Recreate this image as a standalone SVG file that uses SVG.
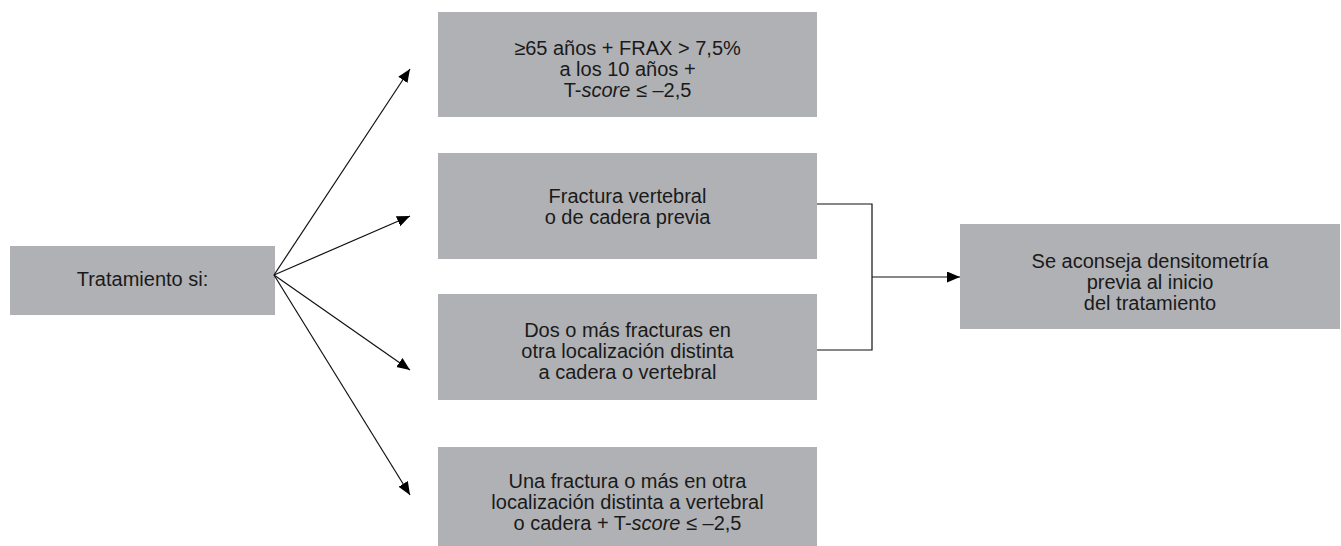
<svg xmlns="http://www.w3.org/2000/svg" width="1341" height="546" viewBox="0 0 1341 546">
<style>
.box{fill:#b0b1b4}
.t{font-family:"Liberation Sans",Arial,Helvetica,sans-serif;font-size:20px;fill:#1a1a1a;text-anchor:middle}
.c{stroke:#111;stroke-width:1.2;fill:none}
</style>
<defs>
<marker id="ah" markerUnits="userSpaceOnUse" markerWidth="14" markerHeight="12" refX="13" refY="5.5" orient="auto">
<path d="M0,0 L13,5.5 L0,11 z" fill="#000"/>
</marker>
</defs>
<rect width="1341" height="546" fill="#fff"/>
<g id="n-tratamiento">
<rect class="box" x="10" y="246" width="265" height="69"/>
<text class="t" x="142.5" y="286">Tratamiento si:</text>
</g>
<g id="n-frax">
<rect class="box" x="438" y="12" width="379" height="105"/>
<text class="t" x="627.5" y="55">≥65 años + FRAX &gt; 7,5%</text>
<text class="t" x="627.5" y="76">a los 10 años +</text>
<text class="t" x="627.5" y="97">T-<tspan font-style="italic">score</tspan> ≤ –2,5</text>
</g>
<g id="n-fractura-vertebral">
<rect class="box" x="438" y="153" width="379" height="106"/>
<text class="t" x="627.5" y="203">Fractura vertebral</text>
<text class="t" x="627.5" y="224">o de cadera previa</text>
</g>
<g id="n-dos-fracturas">
<rect class="box" x="438" y="294" width="379" height="106"/>
<text class="t" x="627.5" y="337">Dos o más fracturas en</text>
<text class="t" x="627.5" y="358">otra localización distinta</text>
<text class="t" x="627.5" y="379">a cadera o vertebral</text>
</g>
<g id="n-una-fractura">
<rect class="box" x="438" y="447" width="379" height="99"/>
<text class="t" x="627.5" y="488">Una fractura o más en otra</text>
<text class="t" x="627.5" y="509">localización distinta a vertebral</text>
<text class="t" x="627.5" y="530">o cadera + T-<tspan font-style="italic">score</tspan> ≤ –2,5</text>
</g>
<g id="n-densitometria">
<rect class="box" x="960" y="224" width="380" height="105"/>
<text class="t" x="1150" y="268">Se aconseja densitometría</text>
<text class="t" x="1150" y="289">previa al inicio</text>
<text class="t" x="1150" y="310">del tratamiento</text>
</g>
<g id="connectors">
<line class="c" x1="274" y1="275" x2="410" y2="69" marker-end="url(#ah)"/>
<line class="c" x1="274" y1="275" x2="410" y2="216" marker-end="url(#ah)"/>
<line class="c" x1="274" y1="275" x2="410" y2="370" marker-end="url(#ah)"/>
<line class="c" x1="274" y1="275" x2="410" y2="495" marker-end="url(#ah)"/>
<polyline class="c" points="817,204 872,204 872,350 817,350"/>
<line class="c" x1="872" y1="277" x2="960" y2="277" marker-end="url(#ah)"/>
</g>
</svg>
